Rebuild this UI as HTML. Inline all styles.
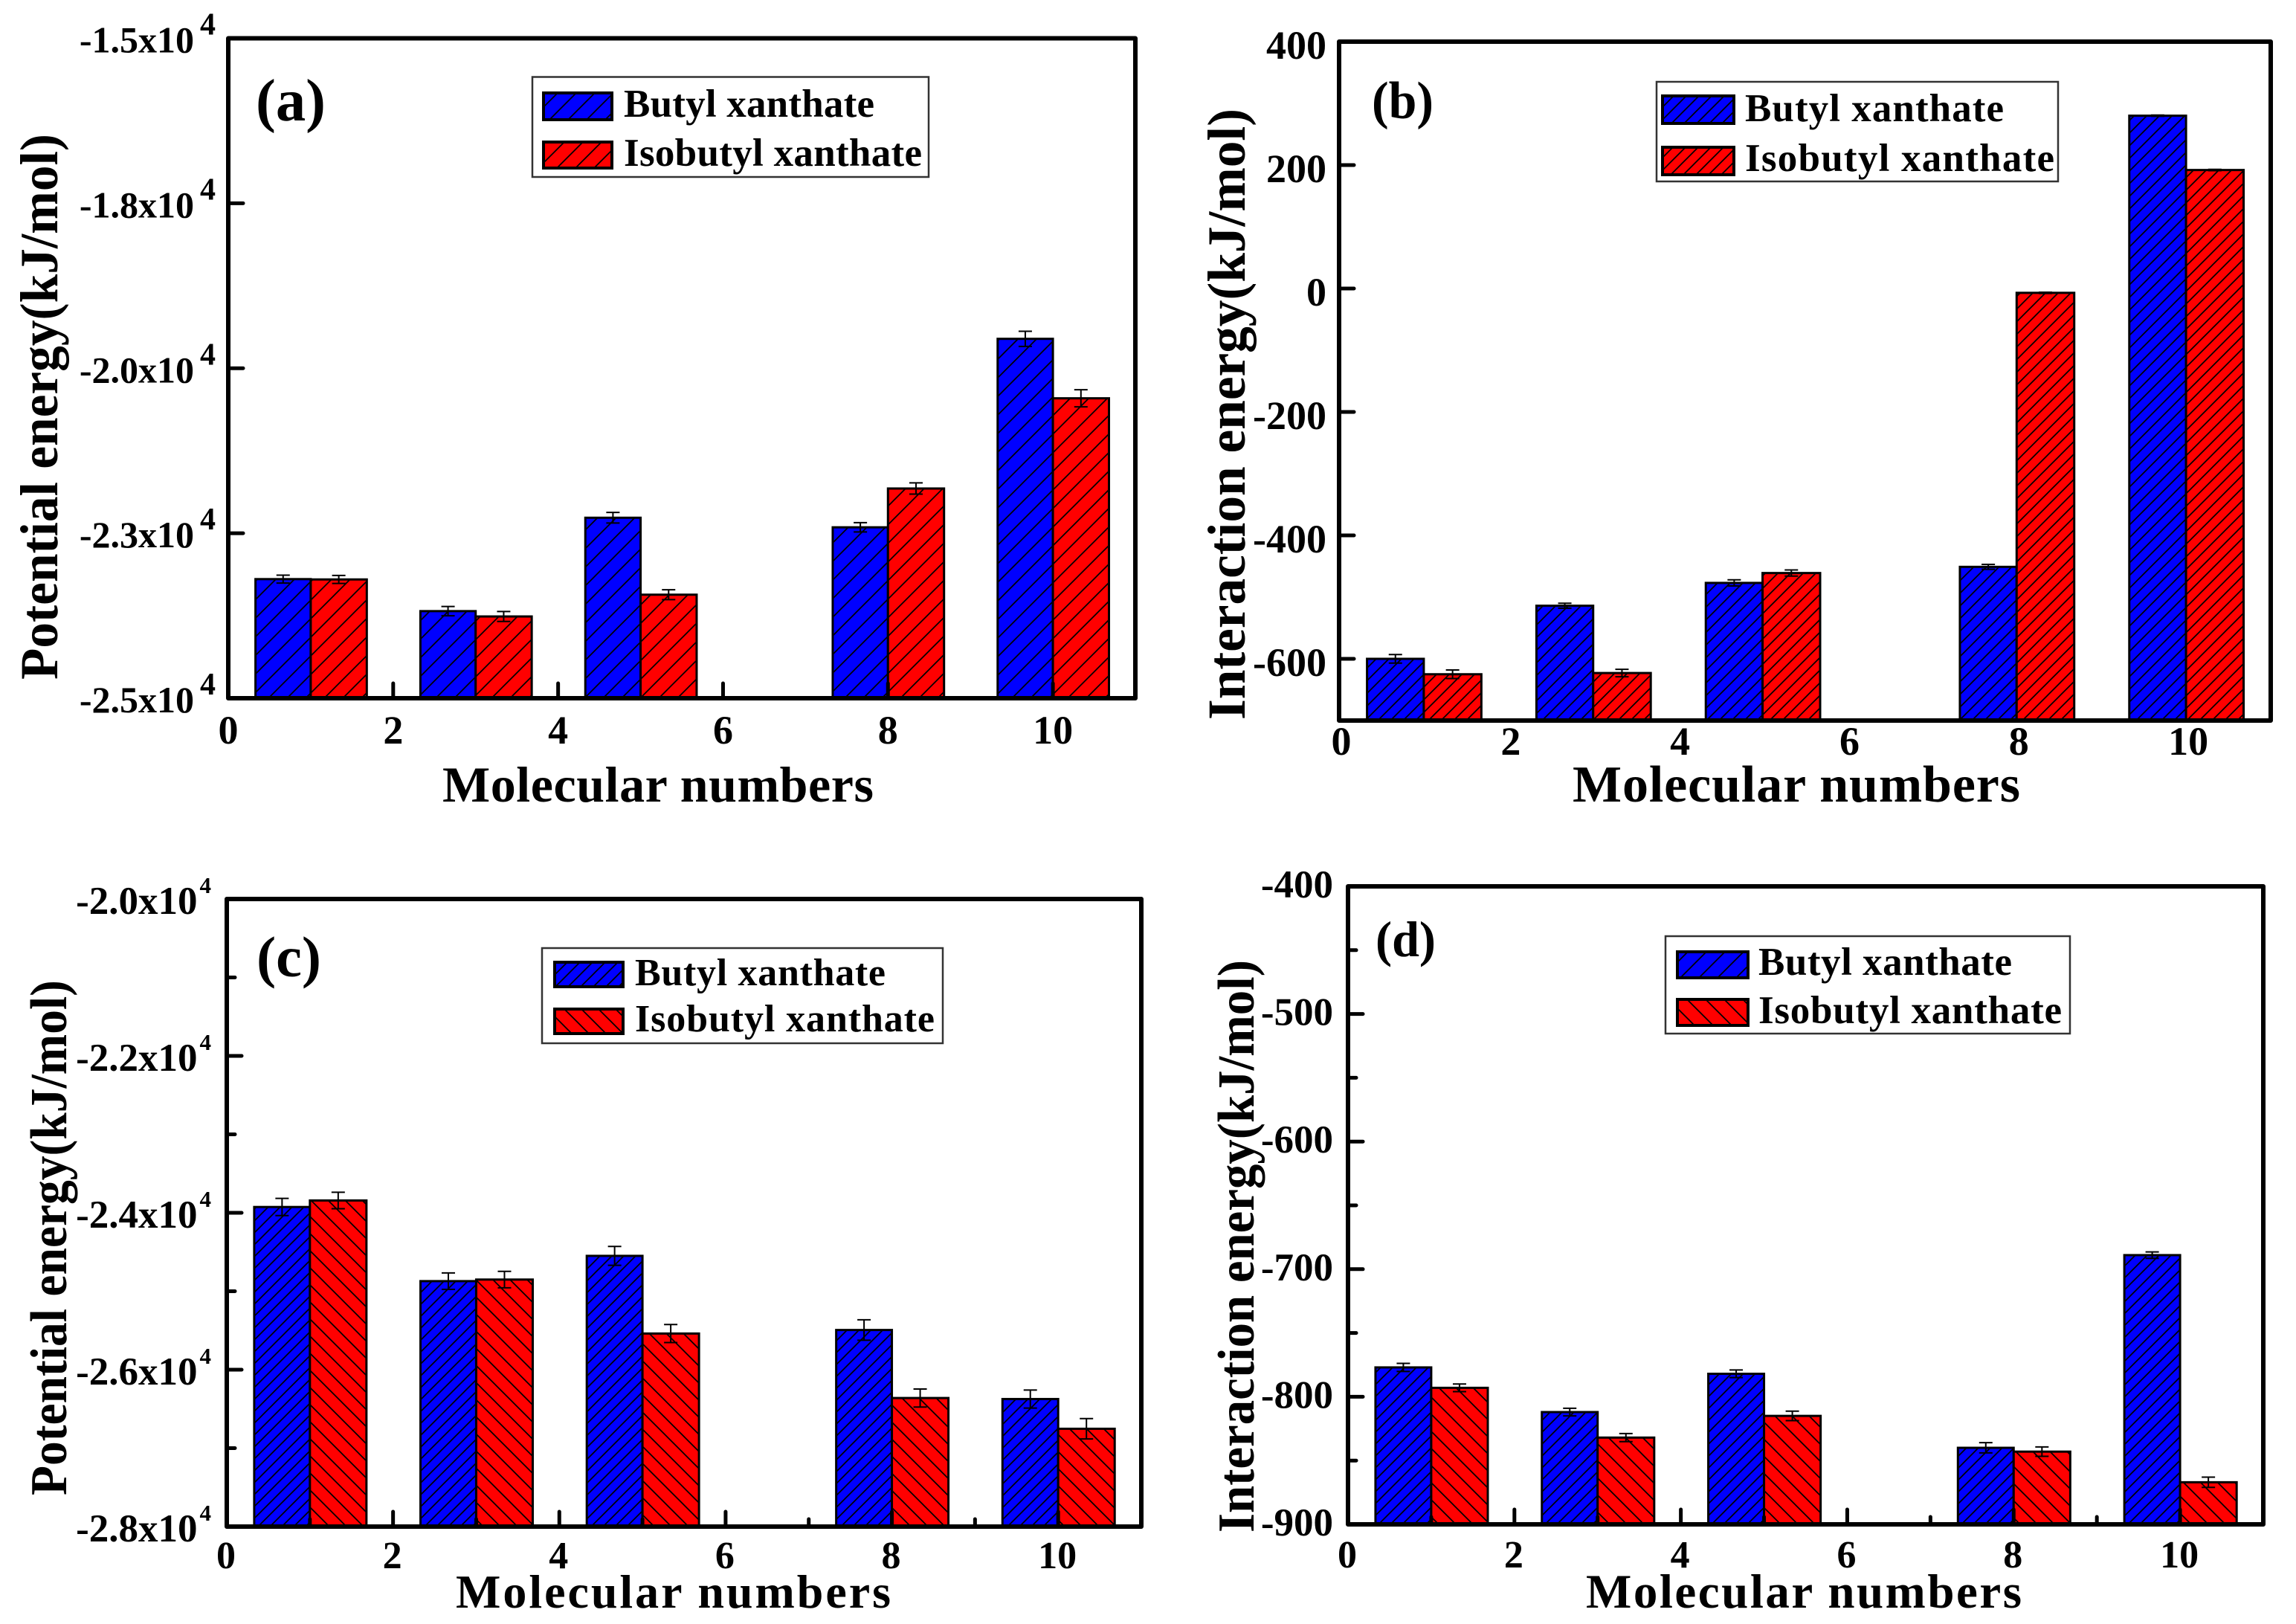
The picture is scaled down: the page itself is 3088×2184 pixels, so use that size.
<!DOCTYPE html>
<html lang="en">
<head>
<meta charset="utf-8">
<title>Potential and interaction energy vs molecular numbers</title>
<style>
html,body{margin:0;padding:0;background:#fff;}
svg{display:block;}
text{font-family:"Liberation Serif","Times New Roman",serif;font-weight:bold;fill:#000;}
.leg-box{fill:#fff;stroke:#333;stroke-width:2.5;}
.swatch{stroke:#000;stroke-width:4;}
.frame{fill:none;stroke:#000;stroke-width:6;stroke-linejoin:round;}
</style>
</head>
<body>
<svg xmlns="http://www.w3.org/2000/svg" width="3088" height="2184" viewBox="0 0 3088 2184">
<defs>
  <pattern id="hatch-blue-25" patternUnits="userSpaceOnUse" width="25" height="25"><rect width="25" height="25" fill="#0000ff"/><path d="M0 25L25 0M-3 3L3 -3M22 28L28 22" stroke="#000" stroke-width="1.7"/></pattern>
  <pattern id="hatch-red-25" patternUnits="userSpaceOnUse" width="25" height="25"><rect width="25" height="25" fill="#ff0000"/><path d="M0 25L25 0M-3 3L3 -3M22 28L28 22" stroke="#000" stroke-width="1.7"/></pattern>
  <pattern id="hatch-blue-17" patternUnits="userSpaceOnUse" width="17" height="17"><rect width="17" height="17" fill="#0000ff"/><path d="M0 17L17 0M-3 3L3 -3M14 20L20 14" stroke="#000" stroke-width="1.7"/></pattern>
  <pattern id="hatch-red-17" patternUnits="userSpaceOnUse" width="17" height="17"><rect width="17" height="17" fill="#ff0000"/><path d="M0 17L17 0M-3 3L3 -3M14 20L20 14" stroke="#000" stroke-width="1.7"/></pattern>
  <pattern id="hatch-blue-16" patternUnits="userSpaceOnUse" width="16" height="16"><rect width="16" height="16" fill="#0000ff"/><path d="M0 16L16 0M-3 3L3 -3M13 19L19 13" stroke="#000" stroke-width="1.7"/></pattern>
  <pattern id="back-red-23" patternUnits="userSpaceOnUse" width="23" height="23"><rect width="23" height="23" fill="#ff0000"/><path d="M0 0L23 23M20 -3L26 3M-3 20L3 26" stroke="#000" stroke-width="1.7"/></pattern>
  <pattern id="back-red-25" patternUnits="userSpaceOnUse" width="25" height="25"><rect width="25" height="25" fill="#ff0000"/><path d="M0 0L25 25M22 -3L28 3M-3 22L3 28" stroke="#000" stroke-width="1.7"/></pattern>
</defs>

<rect x="0" y="0" width="3088" height="2184" fill="#fff"/>

<!-- Panel (a) -->
<g>
  <g id="marks-a"></g>
  <rect class="frame" x="307" y="51.5" width="1220" height="887.5"/>
  <g id="ticks-a"></g>
  <text x="344" y="162" font-size="80" textLength="94" lengthAdjust="spacingAndGlyphs">(a)</text>
  <text x="595" y="1078" font-size="68" textLength="580" lengthAdjust="spacing">Molecular numbers</text>
  <text transform="translate(77,914) rotate(-90)" x="0" y="0" font-size="72" textLength="734" lengthAdjust="spacingAndGlyphs">Potential energy(kJ/mol)</text>
  <g>
    <rect class="leg-box" x="716" y="103.5" width="533" height="134.5"/>
    <rect class="swatch" x="731" y="125" width="92" height="36" fill="url(#hatch-blue-25)"/>
    <rect class="swatch" x="731" y="191" width="92" height="35" fill="url(#hatch-red-25)"/>
    <text x="839" y="157" font-size="53" textLength="337" lengthAdjust="spacing">Butyl xanthate</text>
    <text x="839" y="223" font-size="53" textLength="401" lengthAdjust="spacing">Isobutyl xanthate</text>
  </g>
</g>

<!-- Panel (b) -->
<g>
  <g id="marks-b"></g>
  <rect class="frame" x="1801" y="56" width="1253" height="913"/>
  <g id="ticks-b"></g>
  <text x="1845" y="159" font-size="71" textLength="83" lengthAdjust="spacingAndGlyphs">(b)</text>
  <text x="2115" y="1078" font-size="70" textLength="602" lengthAdjust="spacing">Molecular numbers</text>
  <text transform="translate(1674,968) rotate(-90)" x="0" y="0" font-size="72" textLength="822" lengthAdjust="spacingAndGlyphs">Interaction energy(kJ/mol)</text>
  <g>
    <rect class="leg-box" x="2228" y="110" width="540" height="134"/>
    <rect class="swatch" x="2236" y="129" width="96" height="37" fill="url(#hatch-blue-17)"/>
    <rect class="swatch" x="2236" y="198" width="96" height="37" fill="url(#hatch-red-17)"/>
    <text x="2347" y="163" font-size="53" textLength="348" lengthAdjust="spacing">Butyl xanthate</text>
    <text x="2347" y="230" font-size="53" textLength="416" lengthAdjust="spacing">Isobutyl xanthate</text>
  </g>
</g>

<!-- Panel (c) -->
<g>
  <g id="marks-c"></g>
  <rect class="frame" x="305" y="1209" width="1230" height="844"/>
  <g id="ticks-c"></g>
  <text x="345" y="1313" font-size="77" textLength="87" lengthAdjust="spacingAndGlyphs">(c)</text>
  <text x="613" y="2162" font-size="64" textLength="585" lengthAdjust="spacing">Molecular numbers</text>
  <text transform="translate(89,2011) rotate(-90)" x="0" y="0" font-size="70" textLength="693" lengthAdjust="spacingAndGlyphs">Potential energy(kJ/mol)</text>
  <g>
    <rect class="leg-box" x="729" y="1275" width="539" height="128"/>
    <rect class="swatch" x="746" y="1294" width="92" height="33" fill="url(#hatch-blue-17)"/>
    <rect class="swatch" x="746" y="1357" width="92" height="33" fill="url(#back-red-23)"/>
    <text x="854" y="1325" font-size="52" textLength="337" lengthAdjust="spacing">Butyl xanthate</text>
    <text x="854" y="1387" font-size="52" textLength="403" lengthAdjust="spacing">Isobutyl xanthate</text>
  </g>
</g>

<!-- Panel (d) -->
<g>
  <g id="marks-d"></g>
  <rect class="frame" x="1813" y="1192" width="1231" height="858"/>
  <g id="ticks-d"></g>
  <text x="1850" y="1286" font-size="68" textLength="81" lengthAdjust="spacingAndGlyphs">(d)</text>
  <text x="2133" y="2162" font-size="65" textLength="586" lengthAdjust="spacing">Molecular numbers</text>
  <text transform="translate(1686,2061) rotate(-90)" x="0" y="0" font-size="70" textLength="770" lengthAdjust="spacingAndGlyphs">Interaction energy(kJ/mol)</text>
  <g>
    <rect class="leg-box" x="2240" y="1259" width="544" height="131"/>
    <rect class="swatch" x="2256" y="1280" width="95" height="35" fill="url(#hatch-blue-25)"/>
    <rect class="swatch" x="2256" y="1344" width="95" height="35" fill="url(#back-red-25)"/>
    <text x="2365" y="1311" font-size="53" textLength="341" lengthAdjust="spacing">Butyl xanthate</text>
    <text x="2365" y="1376" font-size="53" textLength="408" lengthAdjust="spacing">Isobutyl xanthate</text>
  </g>
</g>
</svg>

<script>
// Shared categories
const categories = [1, 3, 5, 8, 10];
const xTickValues = [0, 2, 4, 6, 8, 10];
const xTickLabels = ['0', '2', '4', '6', '8', '10'];
const xMinorValues = [1, 3, 5, 7, 9];

// Panel (a)
const aButyl = [-23195, -23680, -22265, -22410, -19554];
const aIsobutyl = [-23200, -23761, -23431, -21822, -20455];
const aButylErr = [60, 70, 80, 70, 115];
const aIsobutylErr = [60, 75, 75, 85, 130];
const aYTicks = [-25000, -22500, -20000, -17500, -15000];
const aYLabels = ['-2.5x10', '-2.3x10', '-2.0x10', '-1.8x10', '-1.5x10'];

// Panel (b)
const bButyl = [-600, -514, -477, -451, 280];
const bIsobutyl = [-625, -623, -461, -7, 192];
const bButylErr = [7, 4, 5, 4, 1];
const bIsobutylErr = [7, 6, 5, 1, 1];
const bYTicks = [-600, -400, -200, 0, 200, 400];
const bYLabels = ['-600', '-400', '-200', '0', '200', '400'];

// Panel (c)
const cButyl = [-23926, -24871, -24549, -25494, -26374];
const cIsobutyl = [-23843, -24851, -25539, -26361, -26753];
const cButylErr = [110, 105, 120, 130, 115];
const cIsobutylErr = [105, 105, 115, 115, 130];
const cYTicks = [-28000, -26000, -24000, -22000, -20000];
const cYLabels = ['-2.8x10', '-2.6x10', '-2.4x10', '-2.2x10', '-2.0x10'];
const cYMinor = [-27000, -25000, -23000, -21000];

// Panel (d)
const dButyl = [-777, -812, -782, -840, -689];
const dIsobutyl = [-793, -832, -815, -843, -867];
const dButylErr = [3.2, 3, 3, 4, 2.5];
const dIsobutylErr = [3, 3.2, 3.7, 3.7, 4];
const dYTicks = [-900, -800, -700, -600, -500, -400];
const dYLabels = ['-900', '-800', '-700', '-600', '-500', '-400'];
const dYMinor = [-850, -750, -650, -550, -450];

const NS = 'http://www.w3.org/2000/svg';

const panelLayouts = [
  {key:'a', left:307, right:1527, top:51.5, bottom:939, yMin:-25000, yMax:-15000,
   butyl:aButyl, iso:aIsobutyl, butylErr:aButylErr, isoErr:aIsobutylErr,
   yTicks:aYTicks, yLabels:aYLabels, yMinor:[], sciExp:'4',
   blueFill:'url(#hatch-blue-25)', redFill:'url(#hatch-red-25)',
   xMajorTicks:true, xMinorTicks:false,
   yFont:50, supFont:42, supDy:-24, supDx:8, yLabelRight:290, yLabelDy:19,
   xFont:54, xBase:1000, xShift:0},
  {key:'b', left:1801, right:3054, top:56, bottom:969, yMin:-700, yMax:400,
   butyl:bButyl, iso:bIsobutyl, butylErr:bButylErr, isoErr:bIsobutylErr,
   yTicks:bYTicks, yLabels:bYLabels, yMinor:[], sciExp:'',
   blueFill:'url(#hatch-blue-17)', redFill:'url(#hatch-red-17)',
   xMajorTicks:false, xMinorTicks:false,
   yFont:54, supFont:0, supDy:0, supDx:0, yLabelRight:1784, yLabelDy:23,
   xFont:54, xBase:1015, xShift:3},
  {key:'c', left:305, right:1535, top:1209, bottom:2053, yMin:-28000, yMax:-20000,
   butyl:cButyl, iso:cIsobutyl, butylErr:cButylErr, isoErr:cIsobutylErr,
   yTicks:cYTicks, yLabels:cYLabels, yMinor:cYMinor, sciExp:'4',
   blueFill:'url(#hatch-blue-16)', redFill:'url(#back-red-23)',
   xMajorTicks:true, xMinorTicks:true,
   yFont:53, supFont:31, supDy:-28, supDx:3, yLabelRight:284, yLabelDy:20,
   xFont:52, xBase:2109, xShift:-1},
  {key:'d', left:1813, right:3044, top:1192, bottom:2050, yMin:-900, yMax:-400,
   butyl:dButyl, iso:dIsobutyl, butylErr:dButylErr, isoErr:dIsobutylErr,
   yTicks:dYTicks, yLabels:dYLabels, yMinor:dYMinor, sciExp:'',
   blueFill:'url(#hatch-blue-16)', redFill:'url(#back-red-23)',
   xMajorTicks:true, xMinorTicks:true,
   yFont:53, supFont:0, supDy:0, supDx:0, yLabelRight:1793, yLabelDy:15,
   xFont:52, xBase:2108, xShift:-1}
];

const X_MAX = 11;
const BAR_LEFT = 0.67;
const BAR_RIGHT = 0.68;
const CAP_HALF = 9;

function makeEl(tag, props) {
  const el = document.createElementNS(NS, tag);
  for (const k in props) el.setAttribute(k, props[k]);
  return el;
}

function drawBar(group, x0, x1, value, err, fill, yScale, baseY, seriesName, index) {
  const top = yScale(value);
  const bar = makeEl('rect', {x:x0, y:top, width:x1 - x0, height:baseY - top, fill:fill, stroke:'#000', 'stroke-width':3});
  
  
  group.appendChild(bar);

  const cx = (x0 + x1) / 2;
  const hi = yScale(value + err);
  const lo = yScale(value - err);
  const errBar = makeEl('path', {
    d:'M' + (cx - CAP_HALF) + ' ' + hi + 'H' + (cx + CAP_HALF) +
      'M' + cx + ' ' + hi + 'V' + lo +
      'M' + (cx - CAP_HALF) + ' ' + lo + 'H' + (cx + CAP_HALF),
    fill:'none', stroke:'#000', 'stroke-width':2
  });
  
  
  group.appendChild(errBar);
}

function drawTick(group, x1, y1, x2, y2, width, name) {
  const t = makeEl('line', {x1:x1, y1:y1, x2:x2, y2:y2, stroke:'#000', 'stroke-width':width, 'stroke-linecap':'round'});
  
  
  group.appendChild(t);
}

panelLayouts.forEach(function (p) {
  const xScale = function (v) { return p.left + v / X_MAX * (p.right - p.left); };
  const yScale = function (v) { return p.bottom - (v - p.yMin) / (p.yMax - p.yMin) * (p.bottom - p.top); };
  const marks = document.getElementById('marks-' + p.key);
  const axes = document.getElementById('ticks-' + p.key);

  categories.forEach(function (c, i) {
    const x0 = xScale(c - BAR_LEFT), xm = xScale(c), x1 = xScale(c + BAR_RIGHT);
    drawBar(marks, x0, xm, p.butyl[i], p.butylErr[i], p.blueFill, yScale, p.bottom, 'butyl-' + p.key, categories[i]);
    drawBar(marks, xm, x1, p.iso[i], p.isoErr[i], p.redFill, yScale, p.bottom, 'isobutyl-' + p.key, categories[i]);
  });

  xTickValues.forEach(function (v, i) {
    const x = xScale(v);
    if (p.xMajorTicks && v > 0) {
      drawTick(axes, x, p.bottom, x, p.bottom - 20, 5, 'x-tick-' + p.key + '-' + v);
    }
    const label = makeEl('text', {x:x + p.xShift, y:p.xBase, 'font-size':p.xFont, 'text-anchor':'middle'});
    
    
    label.textContent = xTickLabels[i];
    axes.appendChild(label);
  });

  if (p.xMinorTicks) {
    xMinorValues.forEach(function (v) {
      const x = xScale(v);
      drawTick(axes, x, p.bottom, x, p.bottom - 10, 5, 'x-minor-tick-' + p.key + '-' + v);
    });
  }

  p.yTicks.forEach(function (v, i) {
    const y = yScale(v);
    if (v > p.yMin && v < p.yMax) {
      drawTick(axes, p.left, y, p.left + 20, y, 5, 'y-tick-' + p.key + '-' + i);
    }
    const label = makeEl('text', {x:p.yLabelRight, y:y + p.yLabelDy, 'font-size':p.yFont, 'text-anchor':'end'});
    
    
    label.appendChild(document.createTextNode(p.yLabels[i]));
    if (p.sciExp) {
      const sup = makeEl('tspan', {dx:p.supDx, dy:p.supDy, 'font-size':p.supFont});
      sup.textContent = p.sciExp;
      label.appendChild(sup);
    }
    axes.appendChild(label);
  });

  p.yMinor.forEach(function (v, i) {
    const y = yScale(v);
    drawTick(axes, p.left, y, p.left + 11, y, 5, 'y-minor-tick-' + p.key + '-' + i);
  });
});
</script>
</body>
</html>
